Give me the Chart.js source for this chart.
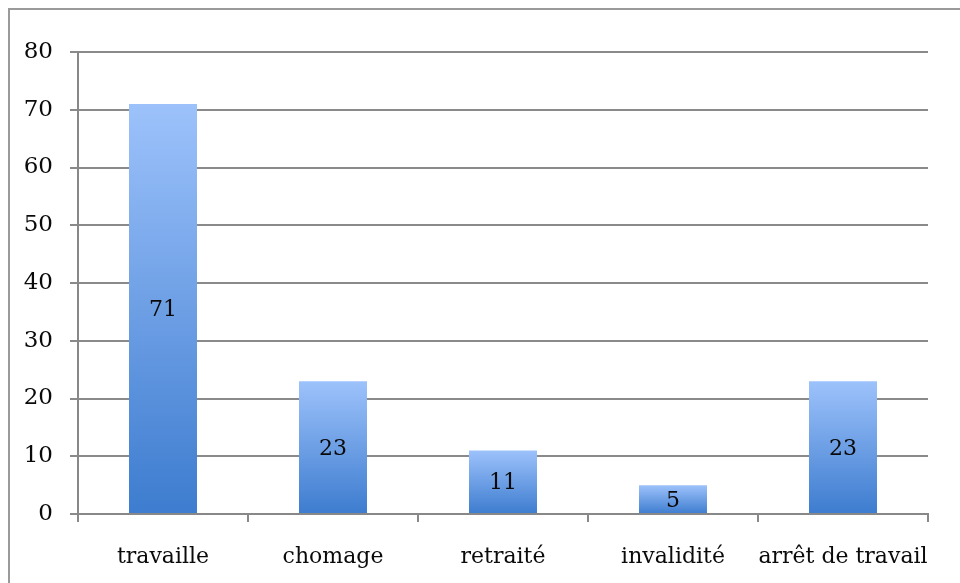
<!DOCTYPE html>
<html>
<head>
<meta charset="utf-8">
<script src="https://cdn.jsdelivr.net/npm/chart.js"></script>
<style>
  html, body { margin: 0; padding: 0; background: #fff; }
  #wrap { width: 960px; height: 583px; position: relative; }
</style>
</head>
<body>
<div id="wrap"><canvas id="chart" width="960" height="583"></canvas></div>
<script>
const categories = ['travaille', 'chomage', 'retraité', 'invalidité', 'arrêt de travail'];
const counts = [71, 23, 11, 5, 23];
const yTicks = [0, 10, 20, 30, 40, 50, 60, 70, 80];

const FONT = '"DejaVu Serif", serif';

// each bar gets its own gradient, light on top, darker at the base
function barGradient(context) {
    const chart = context.chart;
    const yScale = chart.scales.y;
    if (!chart.chartArea || !yScale || context.parsed == null) return '#6a9be6';
    const top = yScale.getPixelForValue(context.parsed.y);
    const bottom = yScale.getPixelForValue(0);
    if (!isFinite(top) || !isFinite(bottom) || top === bottom) return '#6a9be6';
    const g = chart.ctx.createLinearGradient(0, top, 0, bottom);
    g.addColorStop(0, '#9dc2fb');
    g.addColorStop(1, '#3d7ccf');
    return g;
}

// outer frame, cut off at the right and bottom edges
const framePlugin = {
    id: 'frame',
    beforeDraw(chart) {
        const ctx = chart.ctx;
        ctx.save();
        ctx.strokeStyle = '#9a9a9a';
        ctx.lineWidth = 2;
        ctx.beginPath();
        ctx.moveTo(9, 600);
        ctx.lineTo(9, 9);
        ctx.lineTo(970, 9);
        ctx.stroke();
        ctx.restore();
    }
};

// value written in the middle of each bar
const valuePlugin = {
    id: 'values',
    afterDatasetsDraw(chart) {
        const ctx = chart.ctx;
        const meta = chart.getDatasetMeta(0);
        ctx.save();
        ctx.font = '22px ' + FONT;
        ctx.fillStyle = '#0a0a0a';
        ctx.textAlign = 'center';
        ctx.textBaseline = 'middle';
        meta.data.forEach((bar, i) => {
            const y = (bar.y + bar.base) / 2;
            ctx.fillText(String(counts[i]), bar.x, y + 2);
        });
        ctx.restore();
    }
};

new Chart(document.getElementById('chart'), {
    type: 'bar',
    data: {
        labels: categories,
        datasets: [{
            data: counts,
            backgroundColor: barGradient,
            borderWidth: 0,
            categoryPercentage: 0.4,
            barPercentage: 1.0
        }]
    },
    options: {
        responsive: false,
        animation: false,
        layout: { padding: { left: 10, right: 32, top: 52, bottom: 0 } },
        plugins: {
            legend: { display: false },
            tooltip: { enabled: false }
        },
        scales: {
            x: {
                grid: {
                    offset: true,
                    drawOnChartArea: false,
                    drawTicks: true,
                    tickLength: 8,
                    color: '#888',
                    lineWidth: 2
                },
                border: { color: '#888', width: 2 },
                ticks: {
                    color: '#0a0a0a',
                    font: { family: FONT, size: 22 },
                    padding: 22,
                    maxRotation: 0,
                    autoSkip: false
                },
                afterFit(scale) { scale.height = 69; }
            },
            y: {
                min: 0,
                max: 80,
                afterBuildTicks(scale) {
                    scale.ticks = yTicks.map(v => ({ value: v }));
                },
                grid: {
                    color: '#8a8a8a',
                    lineWidth: 2,
                    drawTicks: true,
                    tickLength: 8
                },
                border: { color: '#888', width: 2 },
                ticks: {
                    color: '#0a0a0a',
                    font: { family: FONT, size: 23 },
                    padding: 17
                },
                afterFit(scale) { scale.width = 68; }
            }
        }
    },
    plugins: [framePlugin, valuePlugin]
});
</script>
</body>
</html>
